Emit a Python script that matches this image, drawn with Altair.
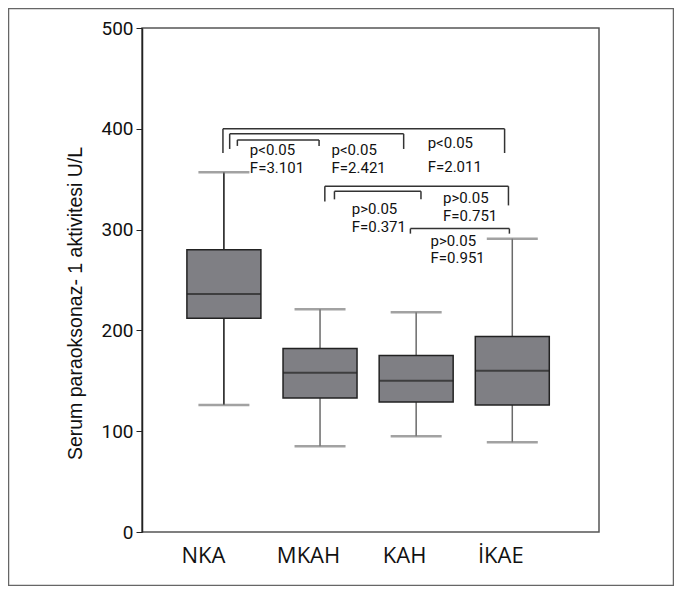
import json
import altair as alt
import pandas as pd

# ---- data ----
groups = ["NKA", "MKAH", "KAH", "İKAE"]
group_pos = [1, 2, 3, 4]
whisker_low = [126, 85, 95, 89]
box_q1 = [212, 133, 129, 126]
box_median = [236, 158, 150, 160]
box_q3 = [280, 182, 175, 194]
whisker_high = [357, 221, 218, 291]

# comparison brackets: left, right, top, left-leg end, right-leg end
br_left = [0.99, 1.06, 1.14, 2.05, 2.15, 2.94]
br_right = [3.92, 2.87, 1.99, 3.96, 3.05, 3.97]
br_top = [400, 395, 389, 343, 338, 301]
br_left_end = [376, 380, 383, 328, 330, 296]
br_right_end = [376, 380, 383, 324, 330, 296]

ann_x = [1.27, 1.27, 2.12, 2.12, 3.12, 3.12, 2.33, 2.33, 3.28, 3.28, 3.15, 3.15]
ann_y = [374, 356, 374, 356, 381, 357, 315, 298, 326, 309, 284, 267]
ann_text = ["p<0.05", "F=3.101", "p<0.05", "F=2.421", "p<0.05", "F=2.011",
            "p>0.05", "F=0.371", "p>0.05", "F=0.751", "p>0.05", "F=0.951"]

y_ticks = [0, 100, 200, 300, 400, 500]

box_df = pd.DataFrame({
    "group": groups, "pos": group_pos, "low": whisker_low, "q1": box_q1,
    "med": box_median, "q3": box_q3, "high": whisker_high,
})

seg_rows = []
for l, r, t, le, re_ in zip(br_left, br_right, br_top, br_left_end, br_right_end):
    seg_rows.append({"x": l, "x2": r, "y": t, "y2": t})
    seg_rows.append({"x": l, "x2": l, "y": t, "y2": le})
    seg_rows.append({"x": r, "x2": r, "y": t, "y2": re_})
seg_df = pd.DataFrame(seg_rows)

ann_df = pd.DataFrame({"x": ann_x, "y": ann_y, "text": ann_text})

NUMFONT = "Roboto"

xscale = alt.Scale(domain=[0.2, 4.85], nice=False, zero=False)
yscale = alt.Scale(domain=[0, 500], nice=False)

label_expr = json.dumps(groups, ensure_ascii=False) + "[datum.value - 1]"

XAX = alt.Axis(
    values=group_pos, labelExpr=label_expr, ticks=False, domain=False, grid=False,
    title=None, labelFont="Open Sans", labelFontSize=22, labelColor="#111",
    labelOffset={"condition": {"test": "datum.value == 1", "value": -21}, "value": -12},
    labelPadding=13)
YAX = alt.Axis(
    values=y_ticks, grid=False, title="Serum paraoksonaz- 1 aktivitesi U/L",
    titleFont="Liberation Sans", titleFontSize=19.5,
    titleFontWeight="normal", titleColor="#111", titleX=-67, titleY=275,
    titleAngle=-90, titleAlign="center", titleBaseline="middle",
    labelFont=NUMFONT, labelFontSize=19, labelColor="#111", tickSize=6,
    tickColor="#222", domainColor="#222", domainWidth=1.5, labelPadding=3)


def X(field):
    return alt.X(field, scale=xscale, axis=XAX)


def Y(field):
    return alt.Y(field, scale=yscale, axis=YAX)


base = alt.Chart(box_df)

whiskers = base.mark_rule(strokeWidth=1.5).encode(
    x=X("pos:Q"), y=Y("low:Q"), y2="high:Q",
    color=alt.condition(alt.datum.group == "NKA", alt.value("#111"), alt.value("#6a6a6a")),
)
boxes = base.mark_bar(size=74, color="#7f7f84", stroke="#222", strokeWidth=1.5).encode(
    x=X("pos:Q"), y=Y("q1:Q"), y2="q3:Q",
)
medians = base.mark_tick(orient="horizontal", size=74, thickness=2, color="#222").encode(
    x=X("pos:Q"), y=Y("med:Q"),
)
caps = base.transform_fold(["low", "high"], as_=["which", "val"]).mark_tick(
    orient="horizontal", size=51, thickness=2.5, color="#7a7a7a").encode(
    x=X("pos:Q"), y=Y("val:Q"),
)

brackets = alt.Chart(seg_df).mark_rule(strokeWidth=1.5, color="#333").encode(
    x=X("x:Q"), x2="x2:Q", y=Y("y:Q"), y2="y2:Q",
)

labels = alt.Chart(ann_df).mark_text(
    align="left", baseline="alphabetic", font=NUMFONT, fontSize=15, color="#111").encode(
    x=X("x:Q"), y=Y("y:Q"), text="text:N",
)

frame = alt.Chart(pd.DataFrame({"a": [0]})).mark_rect(
    fillOpacity=0, stroke="#666", strokeWidth=1.5).encode(
    x=alt.value(-133.5), x2=alt.value(531.5), y=alt.value(-19.5), y2=alt.value(557.5))

chart = alt.layer(whiskers, boxes, medians, caps, brackets, labels, frame).properties(
    width=457, height=504,
    padding={"left": 134, "top": 20, "right": 75, "bottom": 54},
    autosize="none", background="white",
).configure_view(stroke="#555", strokeWidth=1.5)

chart.save("out.html", embed_options={"renderer": "svg", "actions": False})
